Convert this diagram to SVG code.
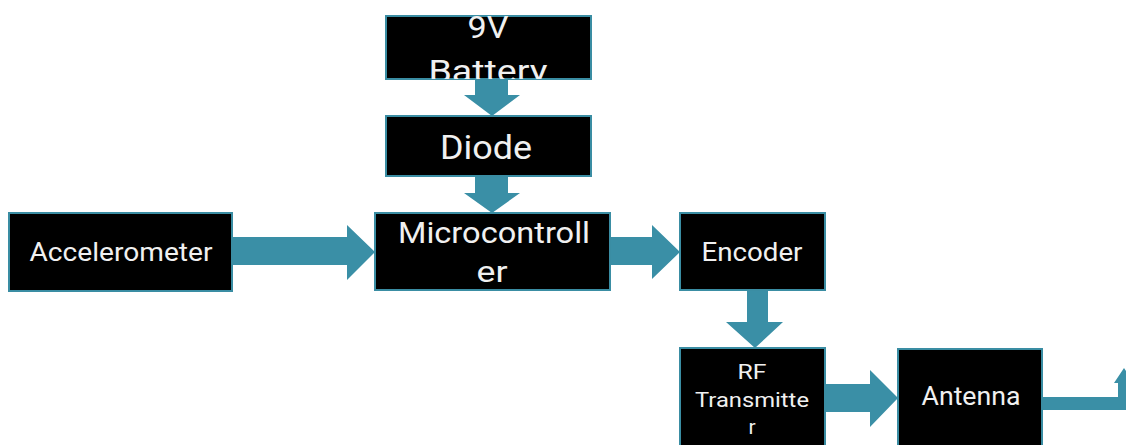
<svg xmlns="http://www.w3.org/2000/svg" width="1126" height="445" viewBox="0 0 1126 445">
<style>
.box{fill:#000;stroke:#3a8da3;stroke-width:2}
.arr{fill:#3a8fa6}
text{fill:#f0f0f0;font-family:Roboto,"Liberation Sans",sans-serif;text-anchor:middle}
.big{font-size:32px}
.mid{font-size:25px}
.sm{font-size:21px}
</style>
<defs>
<clipPath id="cb"><rect x="386" y="16" width="205" height="63"/></clipPath>
</defs>
<rect width="1126" height="445" fill="#fff"/>
<g id="connectors">
<polygon class="arr" points="475,79 508,79 508,95 520,95 492,116 464,95 475,95"/>
<polygon class="arr" points="475,176 508,176 508,193 520,193 492,213 464,193 475,193"/>
<polygon class="arr" points="232,237 347,237 347,225 375,252 347,280 347,265 232,265"/>
<polygon class="arr" points="610,237 652,237 652,225 680,252 652,279 652,265 610,265"/>
<polygon class="arr" points="747,290 768,290 768,322 783,322 755,348 726,322 747,322"/>
<polygon class="arr" points="825,384 870,384 870,370 898,398 870,427 870,412 825,412"/>
<polygon class="arr" points="1042,397 1118,397 1118,383 1114,383 1124,368 1134,383 1130,383 1130,410 1042,410"/>
</g>
<g id="battery">
<rect class="box" x="386" y="16" width="205" height="63"/>
<g clip-path="url(#cb)">
<text class="big" x="488" y="38" textLength="41" lengthAdjust="spacingAndGlyphs">9V</text>
<text class="big" x="488" y="82" textLength="119" lengthAdjust="spacingAndGlyphs">Battery</text>
</g>
</g>
<g id="diode">
<rect class="box" x="386" y="116" width="205" height="60"/>
<text x="486" y="159" font-size="34" textLength="92" lengthAdjust="spacingAndGlyphs">Diode</text>
</g>
<g id="accelerometer">
<rect class="box" x="9" y="213" width="223" height="78"/>
<text class="mid" x="121" y="261" textLength="183" lengthAdjust="spacingAndGlyphs">Accelerometer</text>
</g>
<g id="microcontroller">
<rect class="box" x="375" y="213" width="235" height="77"/>
<text x="494" y="243" font-size="30" textLength="192" lengthAdjust="spacingAndGlyphs">Microcontroll</text>
<text x="492" y="282" font-size="30" textLength="31" lengthAdjust="spacingAndGlyphs">er</text>
</g>
<g id="encoder">
<rect class="box" x="680" y="213" width="145" height="77"/>
<text class="mid" x="752" y="261" textLength="101" lengthAdjust="spacingAndGlyphs">Encoder</text>
</g>
<g id="rf">
<rect class="box" x="680" y="348" width="145" height="110"/>
<text class="sm" x="752" y="379" textLength="29" lengthAdjust="spacingAndGlyphs">RF</text>
<text class="sm" x="752" y="407" textLength="114" lengthAdjust="spacingAndGlyphs">Transmitte</text>
<text class="sm" x="752" y="434">r</text>
</g>
<g id="antenna">
<rect class="box" x="898" y="349" width="144" height="110"/>
<text class="mid" x="971" y="405" textLength="99" lengthAdjust="spacingAndGlyphs">Antenna</text>
</g>
</svg>
